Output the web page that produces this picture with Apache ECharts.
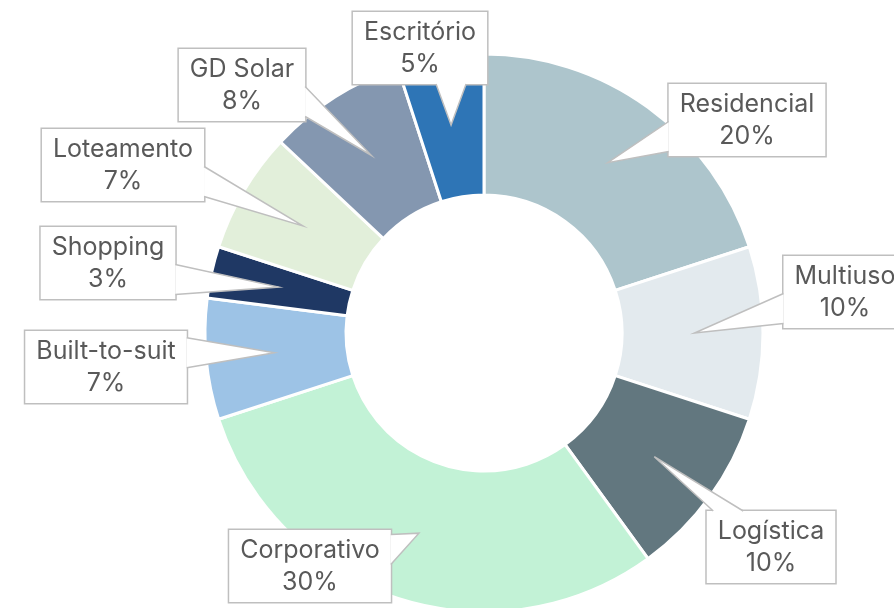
<!DOCTYPE html>
<html>
<head>
<meta charset="utf-8">
<script src="https://cdn.jsdelivr.net/npm/echarts@6/dist/echarts.min.js"></script>
<style>
  html, body { margin: 0; padding: 0; background: #fff; }
  #chart { width: 894px; height: 608px; }
</style>
</head>
<body>
<div id="chart"></div>
<script>
const categories = ['Residencial', 'Multiuso', 'Logística', 'Corporativo', 'Built-to-suit', 'Shopping', 'Loteamento', 'GD Solar', 'Escritório']
const shares = [20, 10, 10, 30, 7, 3, 7, 8, 5]
const colors = ['#adc5cc', '#e3eaee', '#62777f', '#c2f2d6', '#9dc3e6', '#1f3864', '#e2efda', '#8497b0', '#2e75b6']

// where each callout box sits (centre, px)
const labelCentres = [[747, 120], [845, 292], [771, 547], [310, 566], [106, 367], [108, 263], [123, 165], [242, 85], [420, 48]]

const cx = 484, cy = 333, rOut = 279, rIn = 138
const total = shares.reduce((a, b) => a + b, 0)

// point inside the ring where the callout pointer ends
function tipPoint(i) {
    let before = 0
    for (let k = 0; k < i; k++) before += shares[k]
    const mid = (before + shares[i] / 2) / total * 2 * Math.PI
    const r = (rOut + rIn) / 2 + 2
    return [cx + r * Math.sin(mid), cy - r * Math.cos(mid)]
}

function calloutLayout(params) {
    const i = params.dataIndex
    const lx = labelCentres[i][0], ly = labelCentres[i][1]
    const w = params.labelRect.width, h = params.labelRect.height
    const left = lx - w / 2, right = lx + w / 2, top = ly - h / 2, bottom = ly + h / 2
    const tip = tipPoint(i)
    const ox = tip[0] < left ? left - tip[0] : (tip[0] > right ? tip[0] - right : 0)
    const oy = tip[1] < top ? top - tip[1] : (tip[1] > bottom ? tip[1] - bottom : 0)
    const half = 15
    let a, b
    if (ox > oy * 1.8) {
        const ex = tip[0] < left ? left + 1.5 : right - 1.5
        const my = Math.min(Math.max(tip[1], top + half + 6), bottom - half - 6)
        a = [ex, my - half]
        b = [ex, my + half]
    } else {
        const ey = tip[1] < top ? top + 1.5 : bottom - 1.5
        const mx = Math.min(Math.max(tip[0], left + half + 8), right - half - 8)
        a = [mx - half, ey]
        b = [mx + half, ey]
    }
    return {
        x: lx,
        y: ly,
        align: 'center',
        verticalAlign: 'middle',
        labelLinePoints: [a, tip, b]
    }
}

const pieData = categories.map((name, i) => ({ name: name, value: shares[i] }))

const chart = echarts.init(document.getElementById('chart'))
chart.setOption({
    animation: false,
    color: colors,
    series: [{
        // coloured ring
        type: 'pie',
        z: 2,
        center: [cx, cy],
        radius: [rIn, rOut],
        startAngle: 90,
        clockwise: true,
        itemStyle: {
            borderColor: '#ffffff',
            borderWidth: 3
        },
        label: { show: false },
        labelLine: { show: false },
        emphasis: { disabled: true },
        data: pieData
    }, {
        // same ring, invisible, only carries the callouts on top
        type: 'pie',
        z: 5,
        silent: true,
        center: [cx, cy],
        radius: [rIn, rOut],
        startAngle: 90,
        clockwise: true,
        avoidLabelOverlap: false,
        itemStyle: {
            color: 'rgba(0,0,0,0)',
            borderWidth: 0
        },
        label: {
            show: true,
            position: 'outside',
            formatter: '{b}\n{c}%',
            fontFamily: 'Inter',
            fontSize: 25,
            lineHeight: 32,
            color: '#595959',
            align: 'center',
            backgroundColor: '#ffffff',
            borderColor: '#bfbfbf',
            borderWidth: 1.5,
            padding: [4, 11]
        },
        labelLine: {
            show: true,
            smooth: false,
            lineStyle: {
                color: '#bfbfbf',
                width: 1.5
            }
        },
        labelLayout: calloutLayout,
        emphasis: { disabled: true },
        data: pieData
    }]
})

// fill the callout pointers white and lay them over the box edge, like the spreadsheet callouts
const calloutData = chart.getModel().getSeriesByIndex(1).getData()
calloutData.each(function (idx) {
    const el = calloutData.getItemGraphicEl(idx)
    const guide = el && el.getTextGuideLine()
    if (guide) {
        guide.setStyle('fill', '#ffffff')
        guide.z2 = 1000
        guide.markRedraw()
    }
})
chart.getZr().refreshImmediately()
</script>
</body>
</html>
